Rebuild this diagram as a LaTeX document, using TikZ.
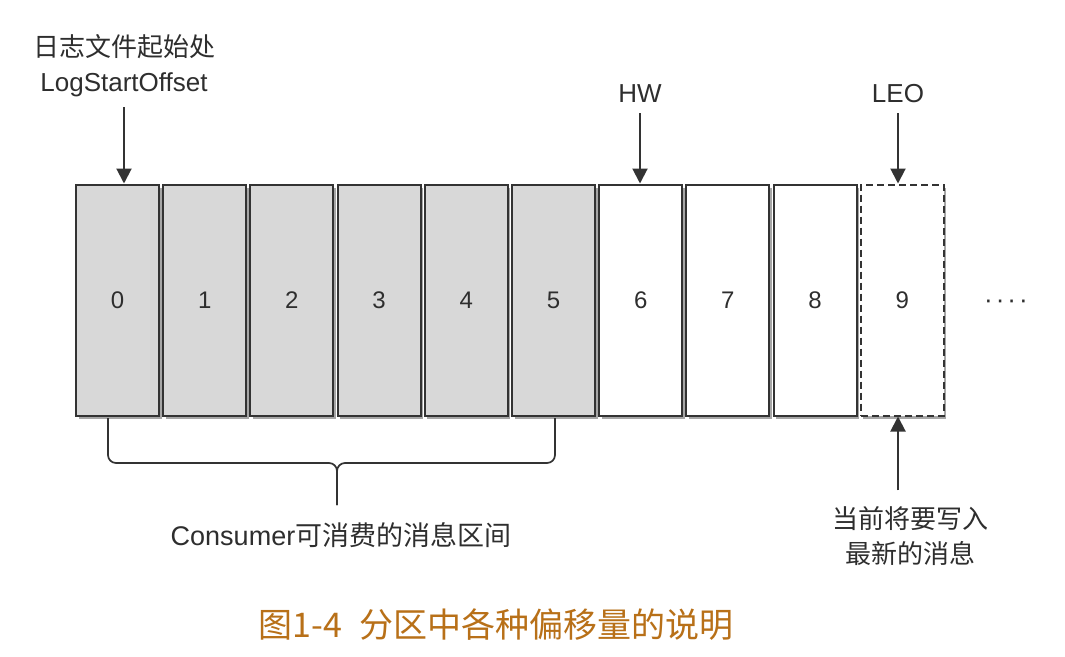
\documentclass[tikz,border=0pt]{standalone}
\usepackage{fontspec}
\setmainfont{Liberation Sans}
\newfontfamily\cjk{Noto Sans CJK SC}
\usetikzlibrary{arrows.meta,shadows,calc}
\definecolor{edge}{HTML}{333333}
\definecolor{ink}{HTML}{2E2E2E}
\definecolor{cellgray}{HTML}{D8D8D8}
\definecolor{capcol}{RGB}{184,112,24}
\begin{document}
\begin{tikzpicture}[x=1pt,y=-1pt,
  cell/.style={draw=edge, line width=2pt, minimum width=83pt, minimum height=231pt,
    inner sep=0pt, text=ink, font=\fontsize{24}{24}\selectfont,
    drop shadow={shadow xshift=2.5pt, shadow yshift=-3pt, opacity=0.35, fill=black}},
  used/.style={cell, fill=cellgray},
  free/.style={cell, fill=white},
  nextcell/.style={cell, fill=white, dash pattern=on 7pt off 4pt},
  lbl/.style={font=\fontsize{26}{35}\selectfont, text=ink, inner sep=0pt, align=center},
  arr/.style={draw=edge, line width=2pt, -{Triangle[width=15pt,length=15pt]}},
  bracepath/.style={draw=edge, line width=1.7pt, rounded corners=8pt}]
\useasboundingbox (0,0) rectangle (1065,656);
\fill[white] (0,0) rectangle (1065,656);

% cells
\foreach \i in {0,...,5}{
  \node[used] (b\i) at ({117.5+87.2*\i},300) {\i};
}
\foreach \i in {6,7,8}{
  \node[free] (b\i) at ({117.5+87.2*\i},300) {\i};
}
\node[nextcell] (b9) at ({117.5+87.2*9},300) {9};
\node[lbl] (dots) at (1006,304) {·\hspace{3pt}·\hspace{3pt}·\hspace{3pt}·};

% labels
\node[lbl] (lso) at (124,66) {{\cjk 日志文件起始处}\\LogStartOffset};
\node[lbl] (hw) at (640,94) {HW};
\node[lbl] (leo) at (898,94) {LEO};
\node[lbl] (newmsg) at (910,536) {{\cjk 当前将要写入}\\{\cjk 最新的消息}};
\node[lbl, font=\fontsize{27}{35}\selectfont] (cons) at (341,535) {Consumer{\cjk 可消费的消息区间}};
\node[font=\cjk\fontsize{34}{34}\selectfont, text=capcol, inner sep=0pt] (cap) at (496,625)
  {图1-4\hspace{0.5em}分区中各种偏移量的说明};

% arrows
\draw[arr, shorten <=10pt] (lso.south) -- (lso.south |- b0.north);
\draw[arr, shorten <=10pt] (hw.south) -- (hw.south |- b6.north);
\draw[arr, shorten <=10pt] (leo.south) -- (leo.south |- b9.north);
\draw[arr, shorten <=16pt] (leo.south |- newmsg.north) -- (leo.south |- b9.south);

% brace
\coordinate (brL) at (108,418);
\coordinate (brR) at (555,418);
\coordinate (brM) at (337,463);
\coordinate (brT) at (337,505);
\draw[bracepath] (brL) -- (brL |- brM) -- (brM) -- (brT);
\draw[bracepath] (brR) -- (brR |- brM) -- (brM) -- (brT);
\end{tikzpicture}
\end{document}
